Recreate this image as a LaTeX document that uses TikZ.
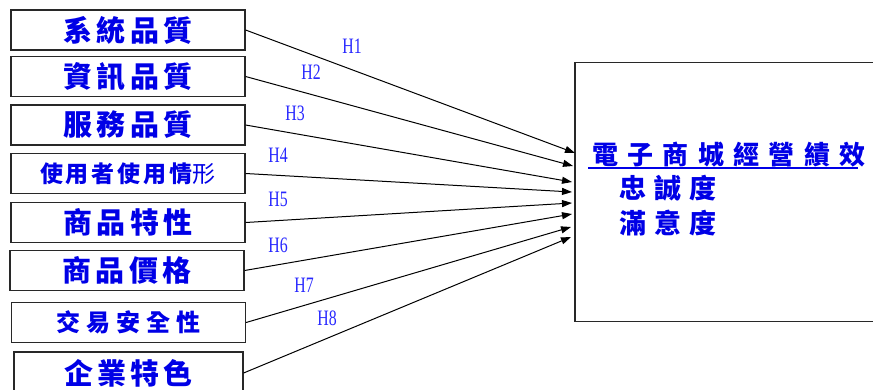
\documentclass[tikz,border=0pt]{standalone}
\usepackage{fontspec}
\usepackage{xcolor}
\usepackage{tikz}
\usetikzlibrary{arrows.meta,positioning}
\newfontfamily\cjk[LetterSpace=14]{Noto Sans CJK TC}
\newfontfamily\hfont[FakeStretch=0.72]{Liberation Serif}
\definecolor{ink}{RGB}{0,0,230}
\definecolor{hblue}{RGB}{40,40,255}
\definecolor{edge}{RGB}{40,40,40}

\begin{document}
\begin{tikzpicture}[x=1pt,y=-1pt,>={Triangle[length=10pt,width=7pt]}]
\tikzset{box/.style={draw=edge,line width=1.2pt,minimum width=234pt,minimum height=40pt,inner sep=0pt,
    text=ink,font=\cjk\bfseries\fontsize{29}{29}\selectfont},
  smallbox/.style={box,font=\cjk\bfseries\fontsize{23}{23}\selectfont\addfontfeature{LetterSpace=13}},
  perfbox/.style={minimum width=340pt,minimum height=258pt,inner sep=0pt},
  perftxt/.style={text=ink,inner sep=0pt,anchor=west,font=\cjk\bfseries\fontsize{26}{26}\selectfont\addfontfeature{LetterSpace=36}},
  hlab/.style={text=hblue,inner sep=0pt,font=\hfont\fontsize{22}{22}\selectfont},
  arr/.style={->,line width=1pt,draw=black}}
\useasboundingbox (0,0) rectangle (873,389);
\begin{scope}
\clip (0,0) rectangle (873,389);
% antecedents
\node[box] (sys) at (128,30) {\raisebox{-8pt}{系統品質}};
\node[box] (info) at (128,76.5) {\raisebox{-8pt}{資訊品質}};
\node[box] (serv) at (128,125) {\raisebox{-8pt}{服務品質}};
\node[smallbox] (use) at (128,173.5) {\raisebox{-4pt}{使用者使用情{\mdseries 形}}};
\node[box] (prod) at (128,222.5) {\raisebox{-8pt}{商品特性}};
\node[box] (price) at (127,270.5) {\raisebox{-8pt}{商品價格}};
\node[smallbox,font=\cjk\bfseries\fontsize{24}{24}\selectfont\addfontfeature{LetterSpace=25}] (safe) at (128.5,322.5) {\raisebox{-6pt}{交易安全性}};
\node[box,minimum width=229pt,minimum height=42pt] (firm) at (128.5,373) {\raisebox{-8pt}{企業特色}};
% outcome (right side runs off the page)
\node[perfbox,anchor=west] (perf) at (575,192) {};
\draw[edge,line width=1.2pt] (perf.north east) -- (perf.north west) -- (perf.south west) -- (perf.south east);
\node[perftxt] (ttl) at (592,155) {電子商城經營績效};
\draw[ink,line width=1.6pt] ([xshift=-4pt,yshift=-3pt]ttl.base west) -- ([xshift=-8pt,yshift=-3pt]ttl.base east);
\node[perftxt,font=\cjk\bfseries\fontsize{27}{27}\selectfont\addfontfeature{LetterSpace=30}] (loy) at (619,188) {忠誠度};
\node[perftxt,font=\cjk\bfseries\fontsize{27}{27}\selectfont\addfontfeature{LetterSpace=30}] (sat) at (619,223) {滿意度};
% arrow ends on the outcome box
\coordinate (t1) at (575,153);
\coordinate (t2) at (573,166);
\coordinate (t3) at (572,182);
\coordinate (t4) at (572,192);
\coordinate (t5) at (572,203);
\coordinate (t6) at (572,214);
\coordinate (t7) at (571,227);
\coordinate (t8) at (571,237);
\draw[arr] (sys.east)--(t1);\draw[arr] (info.east)--(t2);\draw[arr] (serv.east)--(t3);\draw[arr] (use.east)--(t4);
\draw[arr] (prod.east)--(t5);\draw[arr] (price.east)--(t6);\draw[arr] (safe.east)--(t7);\draw[arr] (firm.east)--(t8);
% hypotheses
\node[hlab] (h1) at (352,46) {H1};
\node[hlab] (h2) at (311,72) {H2};
\node[hlab] (h3) at (295,113) {H3};
\node[hlab] (h4) at (278,155) {H4};
\node[hlab] (h5) at (278,199) {H5};
\node[hlab] (h6) at (278,245) {H6};
\node[hlab] (h7) at (304,285) {H7};
\node[hlab] (h8) at (327,318) {H8};
\end{scope}
\end{tikzpicture}
\end{document}
